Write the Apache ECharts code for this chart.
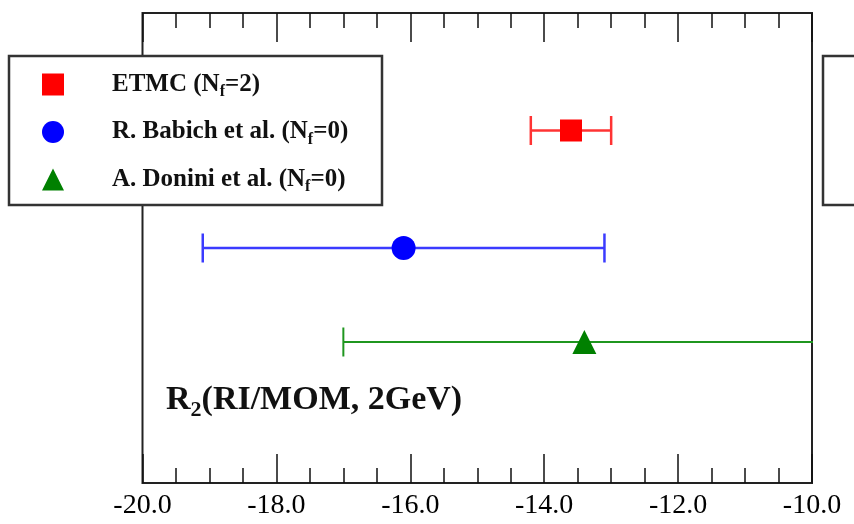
<!DOCTYPE html>
<html lang="en">
<head>
    <meta charset="UTF-8">
    <title>R2 RI/MOM</title>
    <script src="https://cdn.jsdelivr.net/npm/echarts@6/dist/echarts.min.js"></script>
</head>
<body style="margin:0; background:#fff;">
<div id="main" style="width: 854px; height: 524px;"></div>
<script type="text/javascript">
    // data
    const groupNames = ['ETMC', 'R. Babich et al.', 'A. Donini et al.'];
    const nfValues = ['2', '0', '0'];
    const centers = [-13.6, -16.1, -13.4];
    const errors = [0.6, 3.0, 3.6];
    const rowPos = [7.5, 5.0, 3.0];
    const xMin = -20, xMax = -10, xStep = 2;

    const colors = ['#ff0000', '#0000ff', '#008000'];
    const barColors = ['#ff3333', '#3b3bff', '#1f961f'];
    const barWidths = [2.5, 2.5, 2];
    const symbols = ['rect', 'circle', 'triangle'];
    const symbolSizes = [22, 24, 24];
    const font = 'Liberation Serif';

    function init(){
        let myChart = echarts.init(document.getElementById('main'));
        let series = [];
        groupNames.forEach(function (name, i) {
            series.push({
                name: name,
                type: 'custom',
                clip: true,
                z: 3,
                data: [[centers[i], rowPos[i], centers[i] - errors[i], centers[i] + errors[i]]],
                renderItem: function (params, api) {
                    const lo = api.coord([api.value(2), api.value(1)]);
                    const hi = api.coord([api.value(3), api.value(1)]);
                    const cap = 14.5;
                    const st = {stroke: barColors[i], lineWidth: barWidths[i]};
                    return {
                        type: 'group',
                        children: [
                            {type: 'line', shape: {x1: lo[0], y1: lo[1], x2: hi[0], y2: hi[1]}, style: st},
                            {type: 'line', shape: {x1: lo[0], y1: lo[1] - cap, x2: lo[0], y2: lo[1] + cap}, style: st},
                            {type: 'line', shape: {x1: hi[0], y1: hi[1] - cap, x2: hi[0], y2: hi[1] + cap}, style: st}
                        ]
                    };
                },
                itemStyle: {color: colors[i]}
            });
            series.push({
                name: name,
                type: 'scatter',
                z: 4,
                symbol: symbols[i],
                symbolSize: symbolSizes[i],
                itemStyle: {color: colors[i], opacity: 1},
                data: [[centers[i], rowPos[i]]]
            });
        });

        const tickAxis = {
            type: 'value',
            min: xMin,
            max: xMax,
            interval: xStep,
            axisLine: {show: false},
            splitLine: {show: false},
            axisTick: {show: true, inside: true, length: 29, lineStyle: {color: '#111', width: 1.5}},
            minorTick: {show: true, splitNumber: 4, length: 15, lineStyle: {color: '#111', width: 1.5}}
        };

        const option = {
            animation: false,
            grid: {
                left: 142.5, right: 42, top: 13, bottom: 41,
                show: true, borderColor: '#222', borderWidth: 2, backgroundColor: 'transparent'
            },
            xAxis: [
                Object.assign({}, tickAxis, {
                    position: 'bottom',
                    axisLabel: {
                        margin: 9, color: '#000', fontFamily: font, fontSize: 28,
                        formatter: function (v) { return v.toFixed(1); }
                    }
                }),
                Object.assign({}, tickAxis, {position: 'top', axisLabel: {show: false}})
            ],
            yAxis: {type: 'value', min: 0, max: 10, show: false},
            legend: {
                orient: 'vertical',
                left: 42, top: 72, padding: 0,
                itemWidth: 22, itemHeight: 22, itemGap: 19.5,
                z: 20,
                data: groupNames.map(function (n, i) { return {name: n, icon: symbols[i]}; }),
                formatter: function (name) {
                    const i = groupNames.indexOf(name);
                    return '{t|' + name + ' (N}{s|f}{t|=' + nfValues[i] + ')}';
                },
                textStyle: {
                    padding: [0, 0, 0, 43],
                    rich: {
                        t: {fontFamily: font, fontWeight: 'bold', fontSize: 25, color: '#111', lineHeight: 24},
                        s: {fontFamily: font, fontWeight: 'bold', fontSize: 16, color: '#111', padding: [15, 0, 0, 0]}
                    }
                }
            },
            graphic: [
                {type: 'rect', z: 15, shape: {x: 9, y: 56, width: 373, height: 149},
                    style: {fill: '#fff', stroke: '#333', lineWidth: 2.5}},
                {type: 'rect', z: 15, shape: {x: 823, y: 56, width: 50, height: 149},
                    style: {fill: '#fff', stroke: '#333', lineWidth: 2.5}},
                {type: 'text', z: 15, left: 166, top: 383,
                    style: {
                        text: '{t|R}{s|2}{t|(RI/MOM, 2GeV)}',
                        rich: {
                            t: {fontFamily: font, fontWeight: 'bold', fontSize: 34, fill: '#111', lineHeight: 35},
                            s: {fontFamily: font, fontWeight: 'bold', fontSize: 22, fill: '#111', padding: [20, 0, 0, 0]}
                        }
                    }}
            ],
            series: series
        };
        myChart.setOption(option);
    }
    init();
</script>
</body>
</html>
